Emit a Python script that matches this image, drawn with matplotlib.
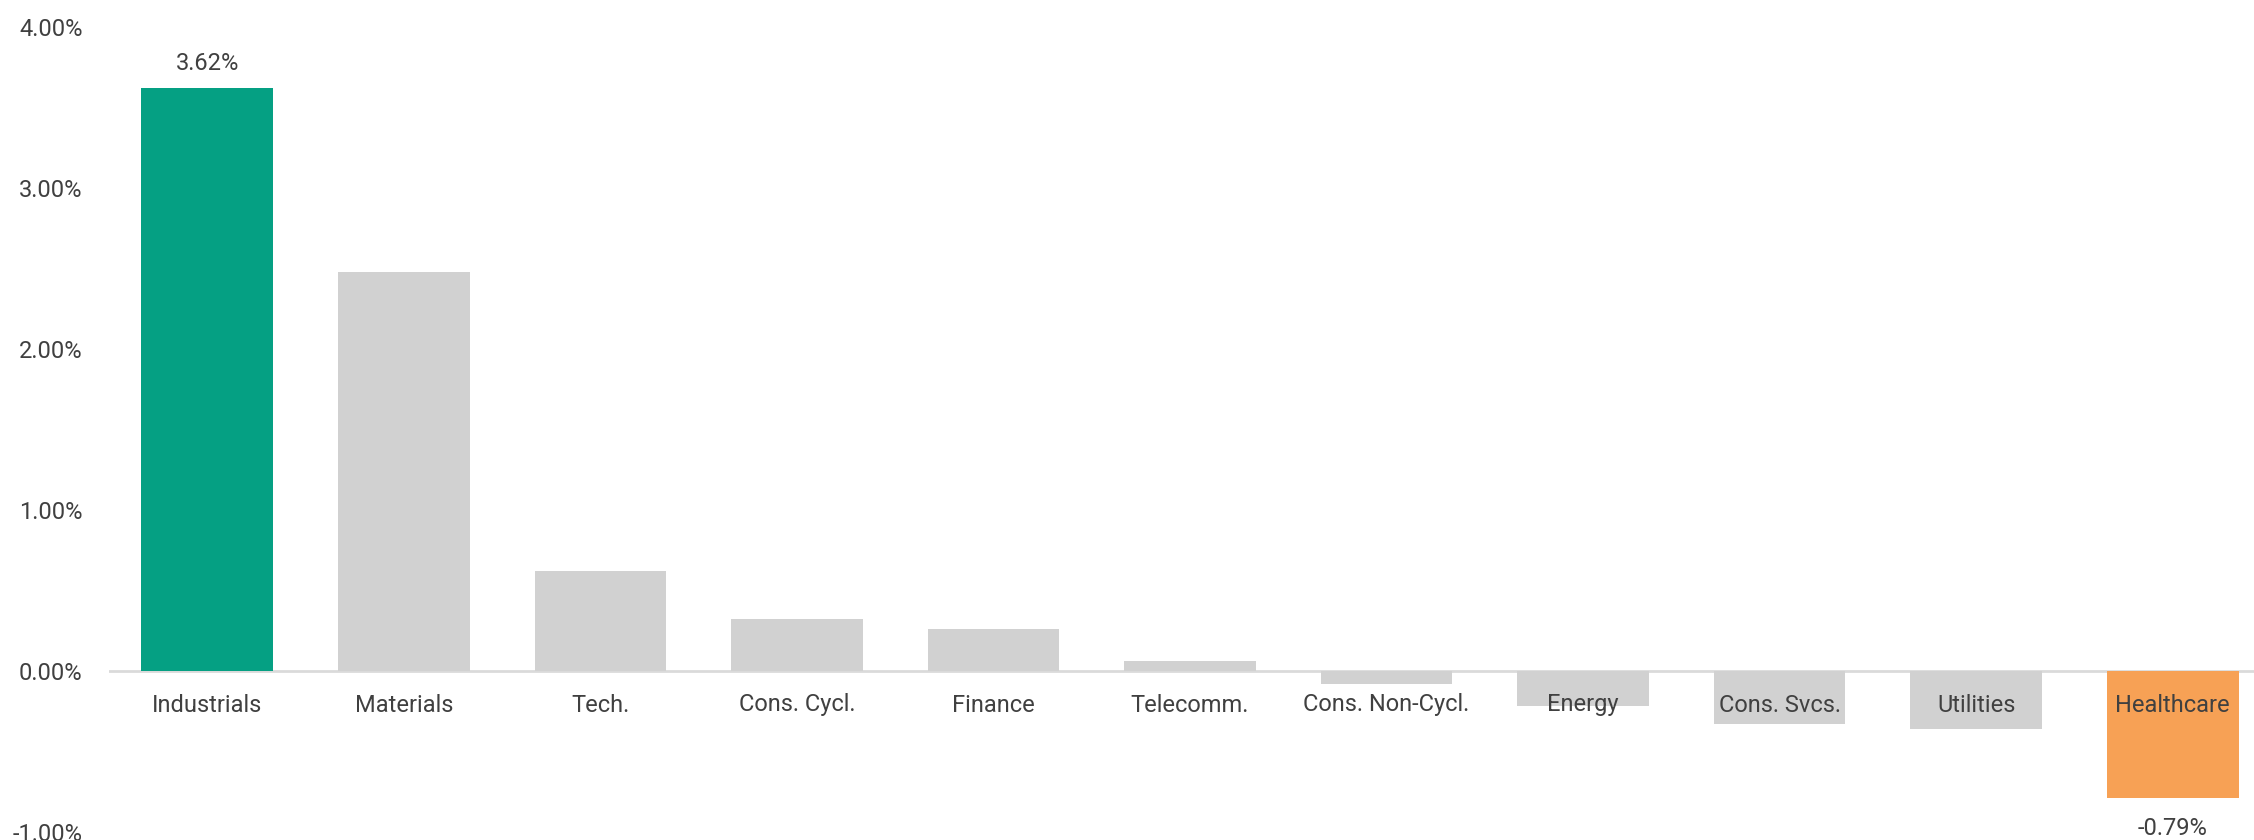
import numpy as np
import matplotlib
matplotlib.use("Agg")
from matplotlib import pyplot as plt
import matplotlib.transforms as mtransforms

plt.rcParams['font.family'] = ['Roboto', 'DejaVu Sans']

# data
sectors = ['Industrials', 'Materials', 'Tech.', 'Cons. Cycl.', 'Finance',
           'Telecomm.', 'Cons. Non-Cycl.', 'Energy', 'Cons. Svcs.',
           'Utilities', 'Healthcare']
returns = [3.62, 2.48, 0.62, 0.32, 0.26, 0.06, -0.08, -0.22, -0.33, -0.36, -0.79]
ytick_vals = [-1, 0, 1, 2, 3, 4]
ytick_labels = ['-1.00%', '0.00%', '1.00%', '2.00%', '3.00%', '4.00%']

green = '#05A083'
orange = '#F7A155'
grey = '#D1D1D1'
text_col = '#404040'

colors = [grey] * len(returns)
colors[int(np.argmax(returns))] = green
colors[int(np.argmin(returns))] = orange

fig = plt.figure(figsize=(22.54, 8.4), dpi=100)
ax = fig.add_axes([109 / 2254, 8 / 840, 2162 / 2254, 805 / 840])

x = np.arange(len(sectors))
ax.bar(x, returns, width=0.67, color=colors, zorder=2)
ax.axhline(0, color='#DADADA', lw=2, zorder=1)

ax.set_xlim(-0.5, len(sectors) - 0.5)
ax.set_ylim(-1, 4)
ax.set_yticks(ytick_vals)
ax.set_yticklabels(ytick_labels)
ax.tick_params(axis='y', length=0, pad=19, labelsize=17, labelcolor=text_col)
ax.set_xticks([])
for s in ax.spines.values():
    s.set_visible(False)

# category labels sit just under the zero line, on top of negative bars
off = mtransforms.offset_copy(ax.transData, fig=fig, x=0, y=-34, units='dots')
for xi, name in zip(x, sectors):
    ax.text(xi, 0, name, transform=off, ha='center', va='center',
            fontsize=17, color=text_col, zorder=3)

# value labels for the highest and lowest bars
hi = int(np.argmax(returns))
lo = int(np.argmin(returns))
up = mtransforms.offset_copy(ax.transData, fig=fig, x=0, y=25, units='dots')
down = mtransforms.offset_copy(ax.transData, fig=fig, x=0, y=-30, units='dots')
ax.text(hi, returns[hi], f'{returns[hi]:.2f}%', transform=up, ha='center',
        va='center', fontsize=17, color=text_col)
ax.text(lo, returns[lo], f'{returns[lo]:.2f}%', transform=down, ha='center',
        va='center', fontsize=17, color=text_col, clip_on=False)

fig.savefig('out.png', dpi=100)
